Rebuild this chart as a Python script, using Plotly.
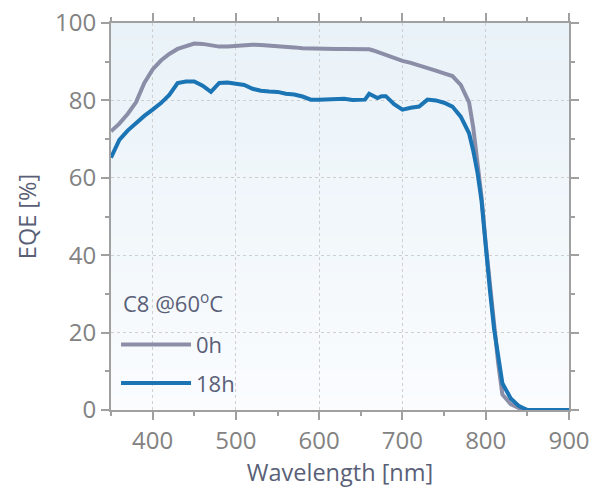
import plotly.graph_objects as go

# Wavelength grid (nm)
wavelength = [350, 360, 370, 380, 390, 400, 410, 420, 430, 440, 450, 460, 470, 480, 490,
              500, 510, 520, 530, 540, 550, 560, 570, 580, 590, 600, 610, 620, 630, 640,
              650, 655, 660, 665, 670, 675, 680, 690, 700, 710, 720, 730, 740, 750, 760,
              770, 775, 780, 785, 790, 795, 800, 805, 810, 815, 820, 830, 840, 850, 860,
              870, 880, 890, 900]

# EQE (%) before ageing
eqe_0h = [72.0, 74.0, 76.5, 79.5, 84.5, 88.0, 90.3, 92.0, 93.3, 94.1, 94.7, 94.6, 94.3, 93.9, 93.9,
          94.1, 94.4, 94.4, 94.3, 94.2, 94.0, 93.8, 93.7, 93.5, 93.4, 93.4, 93.4, 93.3, 93.3, 93.3,
          93.2, 93.2, 93.2, 92.9, 92.5, 92.1, 91.7, 90.8, 90.2, 89.7, 89.1, 88.5, 87.7, 87.0, 86.3,
          84.0, 82.0, 79.5, 73.0, 64.0, 55.0, 43.0, 32.0, 22.0, 12.0, 4.0, 1.5, 0.5, 0.0, 0.0,
          0.0, 0.0, 0.0, 0.0]

# EQE (%) after 18 h at 60 °C
eqe_18h = [65.2, 69.8, 72.2, 74.2, 76.0, 77.6, 79.3, 81.4, 84.5, 84.9, 84.9, 83.8, 82.2, 84.5, 84.6,
           84.3, 84.0, 83.0, 82.5, 82.3, 82.2, 81.7, 81.5, 81.0, 80.2, 80.2, 80.3, 80.5, 80.4, 80.1,
           80.0, 80.2, 81.7, 81.2, 80.6, 81.1, 81.1, 79.0, 77.6, 78.1, 78.4, 80.2, 80.0, 79.4, 78.4,
           75.8, 73.5, 71.5, 67.0, 61.5, 54.0, 42.0, 31.0, 21.0, 13.0, 6.9, 3.0, 1.0, 0.0, 0.0,
           0.0, 0.0, 0.0, 0.0]

x_ticks = [400, 500, 600, 700, 800, 900]
y_ticks = [0, 20, 40, 60, 80, 100]

FONT = "Open Sans"
TICK_COLOR = "#828282"
TEXT_COLOR = "#5a5f78"
AXIS_COLOR = "#a0a0a0"
GRID_COLOR = "#cfcfcf"

fig = go.Figure()
fig.add_trace(go.Scatter(x=wavelength, y=eqe_0h, mode="lines", name="0h",
                         line=dict(color="#8c8ea8", width=4), legendgroup="a"))
fig.add_trace(go.Scatter(x=wavelength, y=eqe_18h, mode="lines", name="18h",
                         line=dict(color="#1b74b4", width=4), legendgroup="b"))

# Vertical gradient in the plotting area: pale blue at the top fading to white
n_steps = 60
top = (233, 242, 248)
bottom = (250, 252, 254)
shapes = []
for i in range(n_steps):
    t = i / (n_steps - 1)
    r = round(top[0] + (bottom[0] - top[0]) * t)
    g = round(top[1] + (bottom[1] - top[1]) * t)
    b = round(top[2] + (bottom[2] - top[2]) * t)
    y1 = 1 - i / n_steps
    y0 = 1 - (i + 1) / n_steps
    shapes.append(dict(type="rect", xref="x domain", yref="y domain", x0=0, x1=1,
                       y0=y0, y1=y1 + 0.002, line=dict(width=0),
                       fillcolor=f"rgb({r},{g},{b})", layer="below"))

fig.update_layout(
    width=593, height=497,
    margin=dict(l=111, r=24, t=23, b=87, autoexpand=False),
    paper_bgcolor="white",
    plot_bgcolor="rgba(0,0,0,0)",
    shapes=shapes,
    font=dict(family=FONT, color=TEXT_COLOR),
    showlegend=True,
    legend=dict(
        x=0.011, y=0.223, xanchor="left", yanchor="top",
        bgcolor="rgba(0,0,0,0)",
        font=dict(family=FONT, size=22, color=TEXT_COLOR),
        itemwidth=70, tracegroupgap=7,
    ),
    annotations=[dict(
        text="C8 @60<sup>o</sup>C", xref="paper", yref="paper",
        x=0.022, y=0.279, xanchor="left", yanchor="middle", showarrow=False,
        font=dict(family=FONT, size=22, color=TEXT_COLOR),
    )],
)

fig.update_xaxes(
    range=[350, 900], tickvals=x_ticks, ticktext=[str(v) for v in x_ticks],
    showline=True, linecolor=AXIS_COLOR, linewidth=2, mirror="ticks",
    ticks="outside", ticklen=8, tickwidth=1.5, tickcolor=AXIS_COLOR,
    minor=dict(dtick=50, tick0=350, ticks="outside", ticklen=4, tickcolor=AXIS_COLOR, showgrid=False),
    showgrid=True, gridcolor=GRID_COLOR, griddash="dot", gridwidth=1.2,
    tickfont=dict(family=FONT, size=24, color=TICK_COLOR),
    title=dict(text="Wavelength [nm]", font=dict(family=FONT, size=23.5, color=TEXT_COLOR), standoff=9),
    zeroline=False, automargin=False,
)
fig.update_yaxes(
    range=[0, 100], tickvals=y_ticks, ticktext=[str(v) for v in y_ticks],
    showline=True, linecolor=AXIS_COLOR, linewidth=2, mirror="ticks",
    ticks="outside", ticklen=8, tickwidth=1.5, tickcolor=AXIS_COLOR,
    minor=dict(dtick=10, tick0=0, ticks="outside", ticklen=4, tickcolor=AXIS_COLOR, showgrid=False),
    showgrid=True, gridcolor=GRID_COLOR, griddash="dot", gridwidth=1.2,
    tickfont=dict(family=FONT, size=24, color=TICK_COLOR),
    title=dict(text="EQE [%]", font=dict(family=FONT, size=23.5, color=TEXT_COLOR), standoff=12),
    zeroline=False, automargin=False,
)

fig.write_html("out.html")
